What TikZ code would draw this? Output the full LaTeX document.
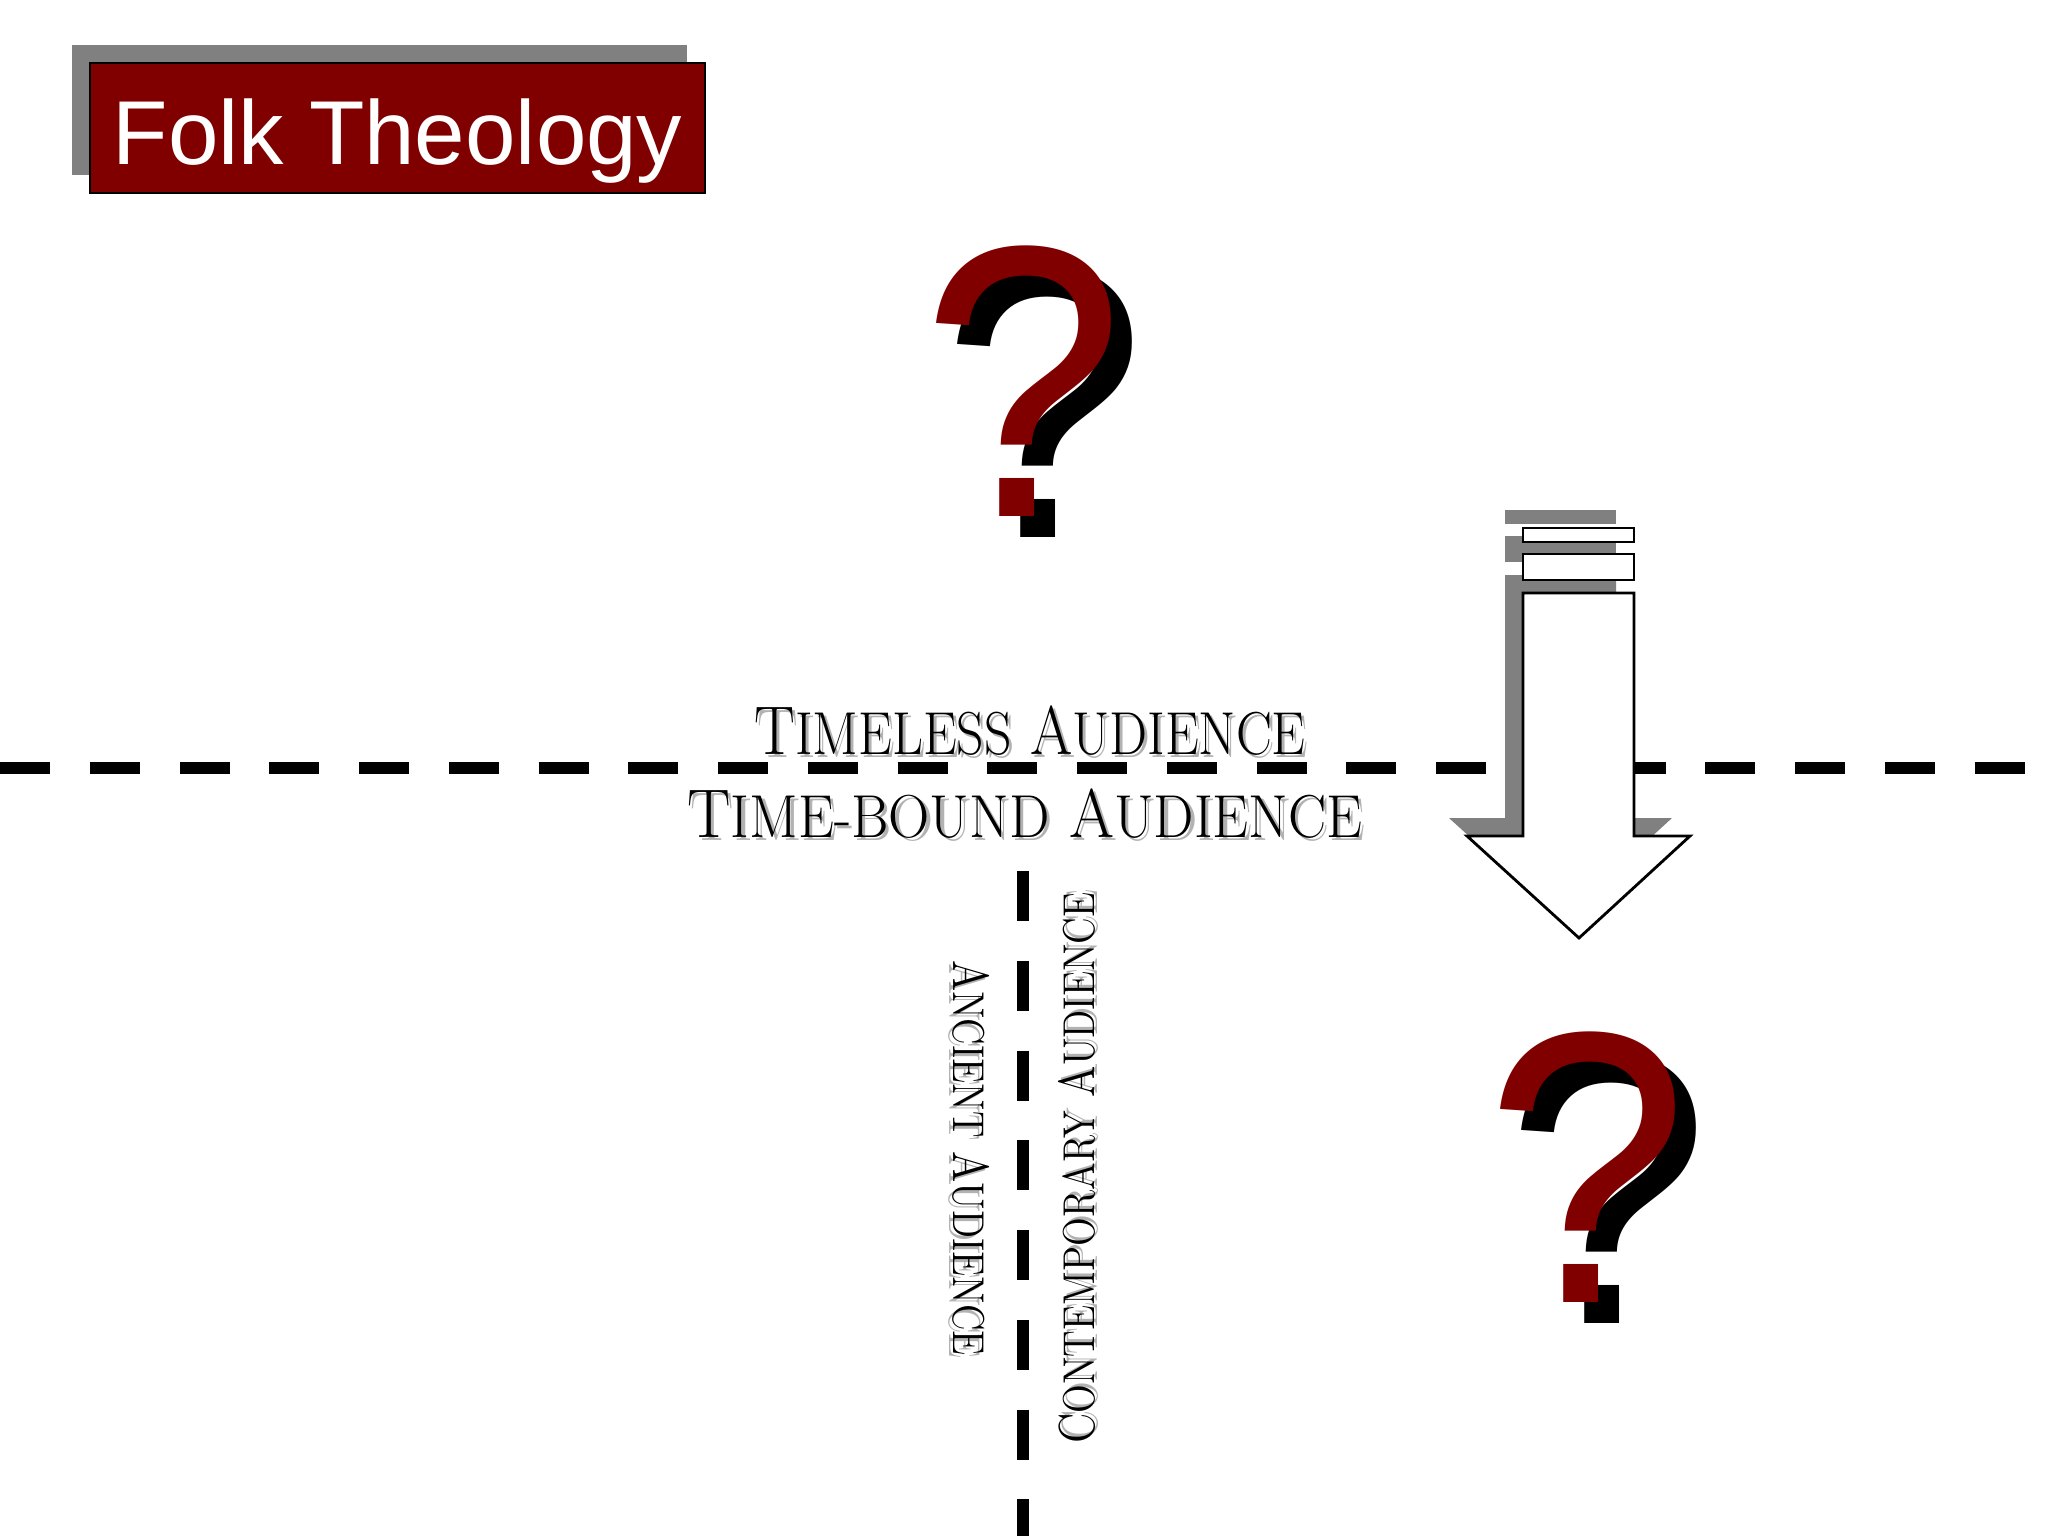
\documentclass[tikz,border=0pt]{standalone}
\usepackage{graphicx}
\usepackage{fontspec}
\newfontfamily\titlefont{Liberation Sans}
\usetikzlibrary{shadows}
\definecolor{folkred}{HTML}{800000}
\definecolor{shadegray}{HTML}{808080}
\newcommand{\lowcaps}[1]{\scalebox{.88}{#1}}
\newcommand{\engraved}[2][.82]{\scalebox{#1}[1]{\rlap{\kern1pt\raisebox{-1pt}{\color{gray!60}#2}}#2}}
\newcommand{\tallq}{\scalebox{1}[1.06]{?}}

\begin{document}
\begin{tikzpicture}[x=0.01cm,y=-0.01cm,
  titlebox/.style={fill=folkred,draw=black,text=white,minimum width=6.15cm,minimum height=1.3cm,inner sep=0pt,
    text height=.72cm,text depth=0pt,font=\titlefont\fontsize{25.8}{30}\selectfont,
    drop shadow={shadow xshift=-.18cm,shadow yshift=.18cm,fill=shadegray,opacity=1}},
  qmark/.style={anchor=base,inner sep=0pt,text=folkred,font=\titlefont\fontsize{104}{110}\selectfont},
  qshadow/.style={qmark,text=black},
  aud/.style={anchor=base,inner sep=0pt,font=\fontsize{19.6}{22}\selectfont},
  sideaud/.style={aud,font=\fontsize{14.4}{17}\selectfont},
  divider/.style={line width=3.4pt,dash pattern=on .5cm off .397cm},
  block/.style={fill=white,draw=black,line width=.8pt,
    drop shadow={shadow xshift=-.18cm,shadow yshift=.18cm,fill=shadegray,opacity=1}}]

    \useasboundingbox (0,0) rectangle (2048,1536);

    \node[titlebox] (title) at (397.5,128) {Folk Theology};

    \coordinate (lineW) at (0,768);
    \coordinate (lineE) at (2048,768);
    \coordinate (lineTop) at (1023,871);
    \coordinate (lineBot) at (1023,1536);
    \draw[divider] (lineW) -- (lineE);
    \draw[divider] (lineTop) -- (lineBot);

    \draw[block] (1523,593) -- (1634,593) -- (1634,836) -- (1690,836) -- (1579,938) -- (1467,836) -- (1523,836) -- cycle;
    \draw[block] (1523,554) rectangle (1634,580);
    \draw[block] (1523,528) rectangle (1634,542);

    \node[qshadow] (q1s) at (1044,537) {\tallq};
    \node[qmark] (q1) at (1023,516) {\tallq};
    \node[qshadow] (q2s) at (1608,1323) {\tallq};
    \node[qmark] (q2) at (1587,1302) {\tallq};

    \node[aud] (timeless) at (1030,754) {\engraved[.885]{T\lowcaps{IMELESS} A\lowcaps{UDIENCE}}};
    \node[aud] (timebound) at (1025,837) {\engraved[.942]{T\lowcaps{IME-BOUND} A\lowcaps{UDIENCE}}};
    \node[sideaud,rotate=-90] (ancient) at (953,1158) {\engraved[.842]{A\lowcaps{NCIENT} A\lowcaps{UDIENCE}}};
    \node[sideaud,rotate=90] (contemporary) at (1094,1168) {\engraved[.845]{C\lowcaps{ONTEMPORARY} A\lowcaps{UDIENCE}}};

  \end{tikzpicture}
\end{document}
